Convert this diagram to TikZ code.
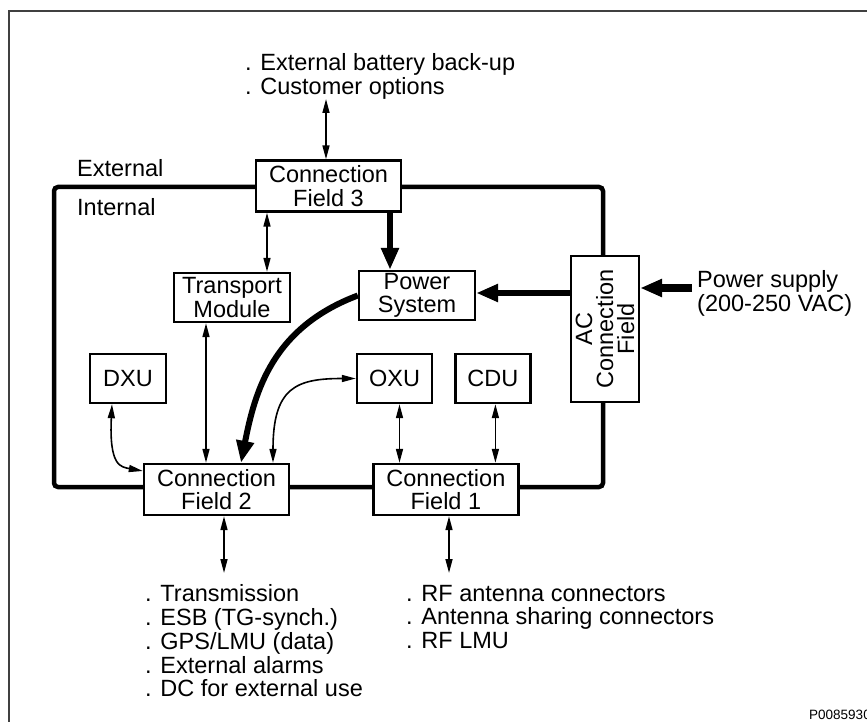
\documentclass[tikz,border=0pt]{standalone}
\usepackage{fontspec}
\setmainfont{Liberation Sans}
\usetikzlibrary{arrows.meta, positioning}

\begin{document}
\begin{tikzpicture}[
    x=1pt, y=1pt,
    every node/.style={font=\fontsize{23.5pt}{23.5pt}\selectfont},
    field/.style={rectangle, draw=black, line width=2.4pt, fill=white, minimum width=145pt, minimum height=51pt, inner sep=0pt, align=center},
    module/.style={field, minimum width=116pt, minimum height=49pt},
    unitbox/.style={field, minimum width=75pt, minimum height=49pt},
    listtext/.style={inner sep=0pt, align=left, font=\fontsize{23.5pt}{23.75pt}\selectfont},
    bus/.style={line width=4.5pt, rounded corners=4pt},
    link/.style={line width=1.6pt, <->, >={Triangle[length=14pt,width=7pt]}},
    feed/.style={line width=6pt, ->, >={Triangle[length=22pt,width=17pt]}}
]
    \useasboundingbox (0,0) rectangle (867,-722);
    \clip (0,0) rectangle (867,-722);
    \draw[line width=1.5pt, black!75] (9,-740) |- (880,-11);

    % cabinet border
    \draw[bus] (54,-187) rectangle (603,-487);

    \node (ext) [listtext, anchor=west] at (77,-168) {External};
    \node (int) [listtext, anchor=west] at (77,-207) {Internal};

    \node (cfthree) [field] at (328.5,-186) {Connection\\Field 3};
    \node (cftwo) [field] at (216.5,-489.5) {Connection\\Field 2};
    \node (cfone) [field, right=82pt of cftwo] {Connection\\Field 1};
    \node (transport) [module] at (232,-297.5) {Transport\\Module};
    \node (power) [module] at (417,-295.5) {Power\\System};
    \node (dxu) [unitbox, minimum width=76pt] at (128,-378.5) {DXU};
    \node (oxu) [unitbox] at (394.5,-378.5) {OXU};
    \node (cdu) [unitbox, right=21pt of oxu] {CDU};
    \node (acfield) [field, rotate=90, minimum width=146pt, minimum height=68pt, font=\fontsize{23.5pt}{21pt}\selectfont] at (605,-329) {AC\\Connection\\Field};

    \node (extlist) [listtext, anchor=north west] at (245,-53.5) {. External battery back-up\\. Customer options};
    \node (supplytext) [listtext, anchor=north west] at (697,-270.7) {Power supply\\(200-250 VAC)};
    \node (cftwolist) [listtext, anchor=north west] at (145,-584.7) {. Transmission\\. ESB (TG-synch.)\\. GPS/LMU (data)\\. External alarms\\. DC for external use};
    \node (cfonelist) [listtext, anchor=north west] at (406,-584.7) {. RF antenna connectors\\. Antenna sharing connectors\\. RF LMU};
    \node (figno) [listtext, anchor=west, font=\fontsize{13.5pt}{14pt}\selectfont] at (809,-715) {P0085930};

    \coordinate (topend) at (326,-99);
    \coordinate (supply) at (692,-288);
    \coordinate (cftwoend) at (224,-573);
    \coordinate (cfoneend) at (449,-573);

    \draw[link] (topend) -- (topend |- cfthree.north);
    \draw[link] ([xshift=35pt]transport.north) -- ([xshift=35pt]transport.north |- cfthree.south);
    \draw[feed] ([xshift=-27pt]power.north |- cfthree.south) -- ([xshift=-27pt]power.north);
    \draw[link] ([xshift=-26pt]transport.south) -- ([xshift=-26pt]transport.south |- cftwo.north);
    \draw[feed] ([yshift=2.5pt]power.east -| acfield.north) -- ([yshift=2.5pt]power.east);
    \draw[feed, line width=8pt] (supply) -- (supply -| acfield.south);
    \draw[feed] (power.west) .. controls +(-85,-32) and +(14,72) .. ([xshift=24.5pt]cftwo.north);
    \draw[link] ([xshift=56.5pt]cftwo.north) .. controls +(0,75) and +(-60,0) .. (oxu.west);
    \draw[link] ([xshift=-16pt]dxu.south) .. controls +(-3,-62) and +(-22,4) .. ([yshift=18.5pt]cftwo.west);
    \draw[link] ([xshift=5pt]oxu.south) -- ([xshift=5pt]oxu.south |- cfone.north);
    \draw[link] ([xshift=2.5pt]cdu.south) -- ([xshift=2.5pt]cdu.south |- cfone.north);
    \draw[link] (cftwoend |- cftwo.south) -- (cftwoend);
    \draw[link] (cfoneend |- cfone.south) -- (cfoneend);
\end{tikzpicture}
\end{document}
